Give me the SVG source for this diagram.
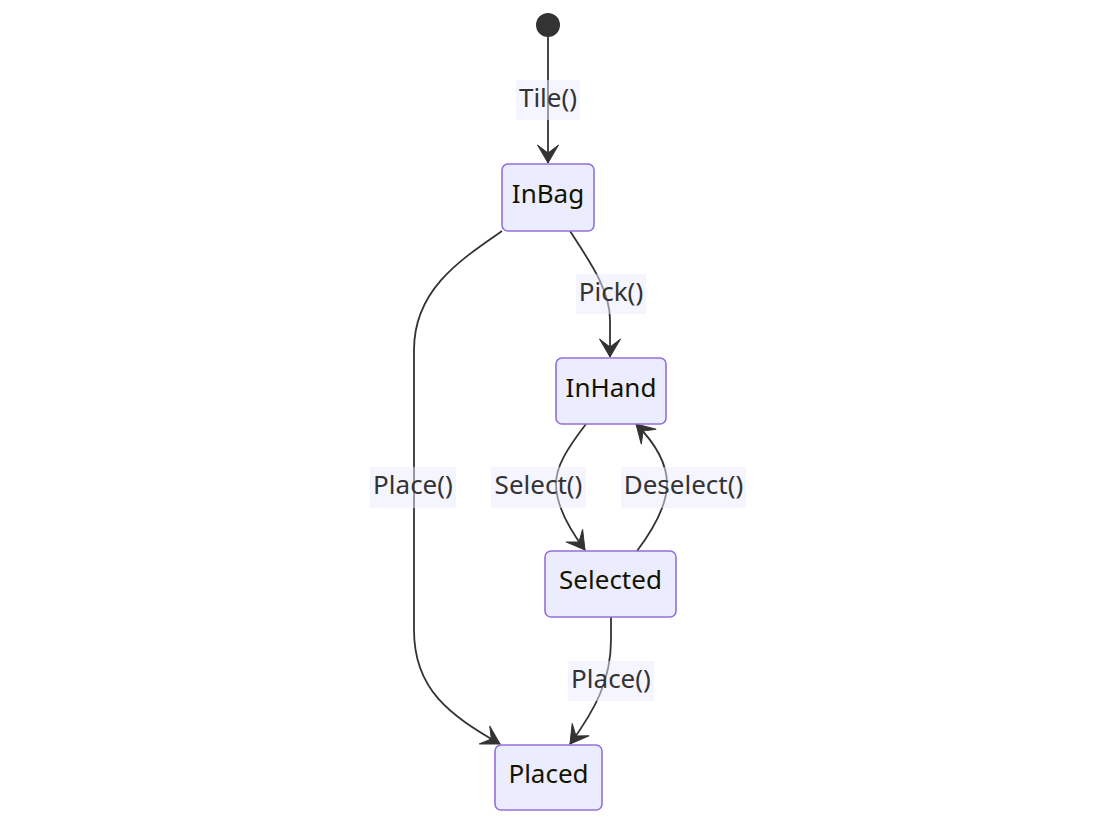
<svg xmlns="http://www.w3.org/2000/svg" width="1116" height="825" viewBox="0 0 1116 825">
  <style>
    .node rect { fill: #ECECFF; stroke: #9370DB; stroke-width: 1.6; }
    .node text { font-family: "Noto Sans", "Open Sans", sans-serif; font-size: 26px; fill: #131300; text-anchor: middle; }
    .edge { fill: none; stroke: #333333; stroke-width: 1.8; marker-end: url(#barb); }
    .elabel rect { fill: #ECECFF; opacity: 0.5; }
    .elabel text { font-family: "Noto Sans", "Open Sans", sans-serif; font-size: 26px; fill: #333333; text-anchor: middle; }
  </style>
  <defs>
    <!-- swept-back arrowhead for transitions -->
    <marker id="barb" viewBox="0 0 24 24" refX="22" refY="12" markerWidth="24" markerHeight="24" markerUnits="userSpaceOnUse" orient="auto">
      <path d="M22,12 L4,1.5 L12,12 L4,22.5 Z" fill="#333333" stroke="#333333" stroke-width="1" stroke-linejoin="miter"/>
    </marker>
  </defs>

  <rect width="1116" height="825" fill="#ffffff"/>

  <!-- transitions -->
  <g id="edges">
    <path class="edge" d="M548,37 L548,163"/>
    <path class="edge" d="M570,231 C590,262 610,290 610,320 L610,357"/>
    <path class="edge" d="M502,231 C460,260 414,290 414,350 L414,630 C414,690 450,715 500,744"/>
    <path class="edge" d="M586,424 C566,450 556,467 556,484 C556,505 570,530 585,550"/>
    <path class="edge" d="M637,551 C655,527 667,505 667,484 C667,465 657,445 636,424"/>
    <path class="edge" d="M611,617 L611,640 C611,680 595,710 570,744"/>
  </g>

  <!-- transition labels -->
  <g id="labels">
    <g class="elabel"><rect x="516" y="80" width="64" height="40"/><text x="548" y="107">Tile()</text></g>
    <g class="elabel"><rect x="576" y="274" width="70" height="40"/><text x="611" y="301">Pick()</text></g>
    <g class="elabel"><rect x="370" y="467" width="86" height="41"/><text x="413" y="494">Place()</text></g>
    <g class="elabel"><rect x="491" y="467" width="95" height="41"/><text x="538.5" y="494">Select()</text></g>
    <g class="elabel"><rect x="621" y="467" width="125" height="41"/><text x="683.5" y="494">Deselect()</text></g>
    <g class="elabel"><rect x="568" y="661" width="86" height="40"/><text x="611" y="688">Place()</text></g>
  </g>

  <!-- start state -->
  <g id="start">
    <circle cx="548" cy="25" r="12" fill="#333333"/>
  </g>

  <!-- states -->
  <g id="InBag" class="node">
    <rect x="502" y="164" width="92" height="67" rx="6" ry="6"/>
    <text x="548" y="203">InBag</text>
  </g>
  <g id="InHand" class="node">
    <rect x="556" y="358" width="110" height="66" rx="6" ry="6"/>
    <text x="611" y="397">InHand</text>
  </g>
  <g id="Selected" class="node">
    <rect x="545" y="551" width="131" height="66" rx="6" ry="6"/>
    <text x="610.5" y="589">Selected</text>
  </g>
  <g id="Placed" class="node">
    <rect x="495" y="745" width="107" height="65" rx="6" ry="6"/>
    <text x="548.5" y="783">Placed</text>
  </g>
</svg>
